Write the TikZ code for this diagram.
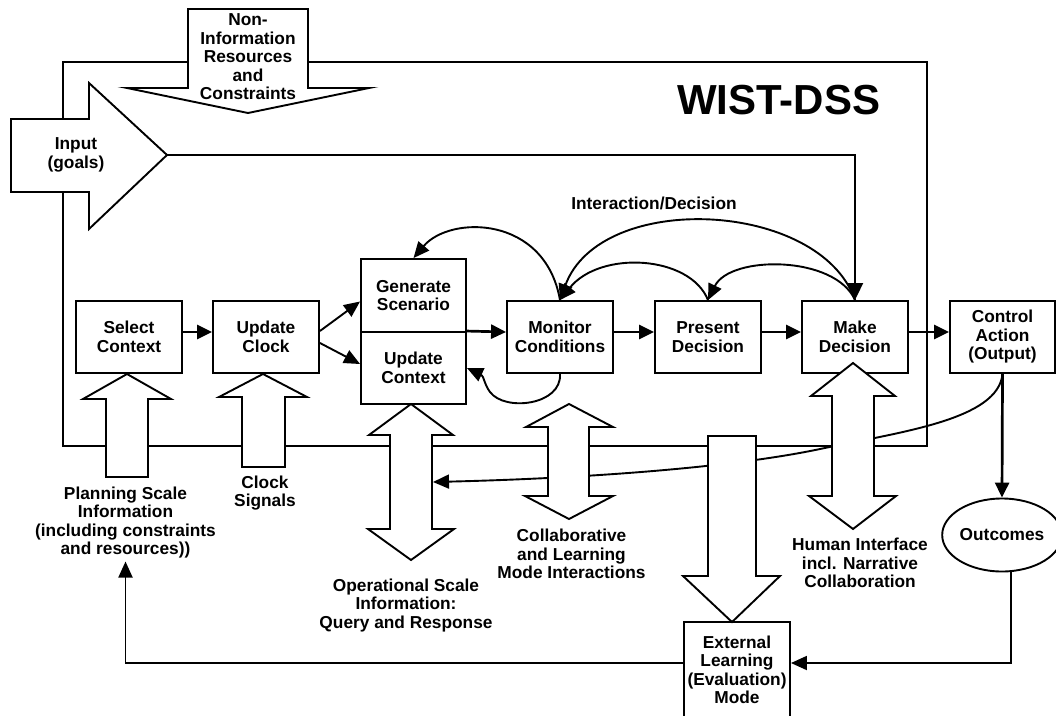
\documentclass[tikz,border=0pt]{standalone}
\usepackage{fontspec}
\setmainfont{Liberation Sans}
\usetikzlibrary{arrows.meta,shapes.geometric}

\begin{document}
\begin{tikzpicture}[x=1pt,y=-1pt,
  font=\bfseries\fontsize{17.3}{18.5}\selectfont,
  box/.style={draw,line width=1.9pt,minimum width=106pt,minimum height=72pt,align=center,inner sep=0pt},
  lbl/.style={align=center,inner sep=0pt},
  flow/.style={line width=2.7pt,-{Triangle[length=15pt,width=14pt]}},
  link/.style={line width=1.9pt,-{Triangle[length=16pt,width=14pt]}},
  frame/.style={line width=1.9pt},
  blockarrow/.style={draw,fill=white,line width=1.9pt,line join=miter},
]
\useasboundingbox (0,0) rectangle (1056,715);

% system boundary
\draw[frame] (63,62) rectangle (927,446);

% process boxes
\node[box] (sel) at (129,337) {Select\\Context};
\node[box] (clk) at (266,337) {Update\\Clock};
\node[box,minimum width=105pt,minimum height=73pt] (gen) at (413.5,295.5) {Generate\\Scenario};
\node[box,minimum width=105pt,minimum height=72pt] (upd) at (413.5,368) {Update\\Context};
\node[box] (mon) at (560,337) {Monitor\\Conditions};
\node[box] (pres) at (708,337) {Present\\Decision};
\node[box] (make) at (855,337) {Make\\Decision};
\node[box,minimum width=105pt] (ctrl) at (1002.5,337) {Control\\Action\\(Output)};
\node[draw,ellipse,line width=1.9pt,minimum width=107pt,minimum height=73pt,inner sep=0pt] (outc) at (1002,535) {Outcomes};
\node[draw,line width=1.9pt,minimum width=106pt,minimum height=110pt] (ext) at (737,677) {};

% helper coordinates
\coordinate (row) at (0,332);
\coordinate (fbrow) at (0,663);
\coordinate (inptip) at (167,155);
\coordinate (oprR) at (433,482);

% main flow
\draw[flow] (sel.east |- row) -- (clk.west |- row);
\draw[link] ([yshift=6pt]clk.east) -- ([yshift=-6pt]gen.west);
\draw[link] ([yshift=-6pt]clk.east) -- ([yshift=4pt]upd.west);
\draw[flow] (upd.north east) -- (mon.west |- row);
\draw[flow] (mon.east |- row) -- (pres.west |- row);
\draw[flow] (pres.east |- row) -- (make.west |- row);
\draw[flow] (make.east |- row) -- (ctrl.west |- row);
\draw[flow] (ctrl.south) -- (outc.north);

% goals feed the decision
\draw[line width=1.9pt,-{Triangle[length=17pt,width=16pt]}] (inptip) -| (make.north);

% interaction / decision loops
\draw[link] (mon.north) .. controls (545,215) and (450,215) .. (gen.north);
\draw[link] (make.north) .. controls (820,200) and (600,190) .. (mon.north);
\draw[link] (make.north) .. controls (835,255) and (730,255) .. (pres.north);
\draw[link] (pres.north) .. controls (690,255) and (600,250) .. (mon.north);
\draw[link] (mon.south) .. controls (562,405) and (505,412) .. (490,392)
  .. controls (484,384) and (484,376) .. (upd.east);

% output fed back to operations
\draw[link] (ctrl.south) .. controls (998,420) and (900,432) .. (820,449)
  .. controls (740,466) and (600,478) .. (oprR);

% block arrows
\draw[blockarrow] (188,9) -- (308,9) -- (308,88) -- (369,88) -- (248,113) -- (127,88) -- (188,88) -- cycle;
\draw[blockarrow] (11,119) -- (89,119) -- (89,83) -- (167,155) -- (89,229) -- (89,192) -- (11,192) -- cycle;
\draw[blockarrow] (106,477) -- (106,399) -- (83,399) -- (127,374) -- (171,399) -- (148,399) -- (148,477) -- cycle;
\draw[blockarrow] (242,467) -- (242,397) -- (219,397) -- (263,374) -- (307,397) -- (285,397) -- (285,467) -- cycle;
\draw[blockarrow] (390,435) -- (369,435) -- (411,404) -- (453,435) -- (432,435) -- (432,529) -- (454,529) -- (411,560) -- (368,529) -- (390,529) -- cycle;
\draw[blockarrow] (548,427) -- (526,427) -- (569,404) -- (613,427) -- (589,427) -- (589,496) -- (613,496) -- (569,519) -- (525,496) -- (548,496) -- cycle;
\draw[blockarrow] (708,436) -- (756,436) -- (756,576) -- (780,576) -- (732,622) -- (683,576) -- (708,576) -- cycle;
\draw[blockarrow] (832,396) -- (811,396) -- (853,363) -- (895,396) -- (874,396) -- (874,496) -- (896,496) -- (853,529) -- (809,496) -- (832,496) -- cycle;

% labels
\node[lbl] (title) at (778.5,100) {\fontsize{42}{44}\selectfont WIST-DSS};
\node[lbl] (nonres) at (248,57) {Non-\\Information\\Resources\\and\\Constraints};
\node[lbl] (goals) at (76,155) {Input\\(goals)};
\node[lbl] (inter) at (654,203) {Interaction/Decision};
\node[lbl] (plan) at (125.5,522.5) {Planning Scale\\Information\\(including constraints\\and resources))};
\node[lbl] (clksig) at (265,493) {Clock\\Signals};
\node[lbl] (oper) at (406,605.5) {Operational Scale\\Information:\\Query and Response};
\node[lbl] (collab) at (571.5,554) {Collaborative\\and Learning\\Mode Interactions};
\node[lbl] (human) at (860,563) {Human Interface\\incl. Narrative\\Collaboration};
\node[lbl] (extlbl) at (737,670) {External\\Learning\\(Evaluation)\\Mode};

% evaluation loop
\draw[link] (outc.-76) |- (ext.east |- fbrow);
\draw[link] (ext.west |- fbrow) -| ([yshift=-3pt]plan.south);
\end{tikzpicture}
\end{document}
